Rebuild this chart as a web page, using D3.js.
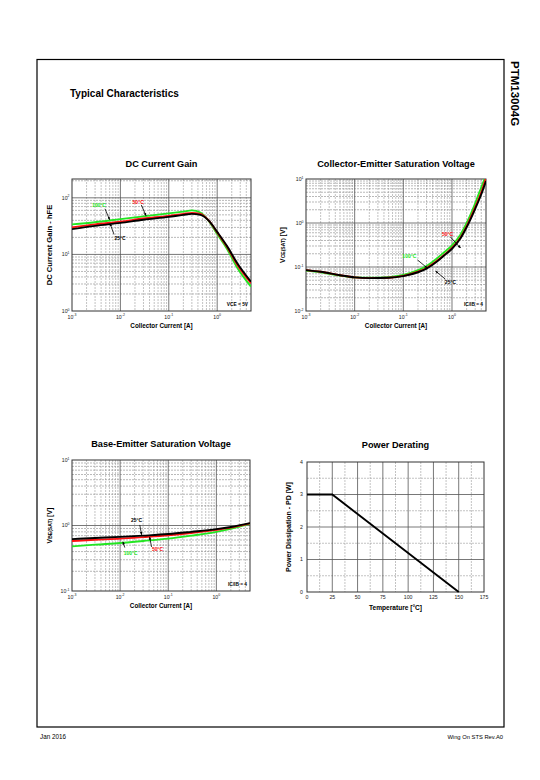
<!DOCTYPE html>
<html><head><meta charset="utf-8">
<script src="https://cdnjs.cloudflare.com/ajax/libs/d3/7.8.5/d3.min.js"></script>
<style>
html,body{margin:0;padding:0;background:#fff;}
svg text{font-family:"Liberation Sans",Arial,sans-serif;}
</style></head>
<body><svg id="c" width="540" height="780"></svg>
<script>
// ---------- DATA ----------
const pageTitle = "Typical Characteristics";
const partNo = "PTM13004G";
const footLeft = "Jan 2016";
const footRight = "Wing On STS Rev.A0";
const logXTicks = [0.001, 0.01, 0.1, 1];

// DC Current Gain
const dcX   = [0.001,0.003,0.01,0.03,0.1,0.2,0.3,0.45,0.7,1,1.6,2.6,5];
const dc25  = [28,32,36,41,46,50,52,50,38,25,14,7,3.3];
const dc50  = [30,34,38,43,48,52,54,52,38,24.5,13.5,6.6,3.1];
const dc100 = [34,37,42,47,53,57,60,55,37,23,12.5,5.8,2.7];
const dcYTicks = [1,10,100];

// Collector-Emitter Saturation Voltage
const ceX   = [0.001,0.002,0.005,0.01,0.02,0.05,0.1,0.2,0.3,0.5,0.7,1,1.5,2,3,4,5];
const ce25  = [0.085,0.078,0.065,0.058,0.056,0.057,0.062,0.076,0.092,0.135,0.185,0.26,0.45,0.8,2.1,4.5,9];
const ce50  = [0.085,0.078,0.065,0.058,0.056,0.057,0.063,0.078,0.095,0.14,0.19,0.27,0.47,0.85,2.3,5,10.5];
const ce100 = [0.083,0.076,0.064,0.058,0.057,0.059,0.066,0.085,0.105,0.16,0.22,0.31,0.55,1.0,2.8,6.5,12];
const ceYTicks = [0.01,0.1,1,10];

// Base-Emitter Saturation Voltage
const beX   = [0.001,0.003,0.01,0.03,0.1,0.3,1,2,5];
const be25  = [0.62,0.645,0.67,0.70,0.74,0.80,0.88,0.95,1.09];
const be50  = [0.58,0.605,0.63,0.665,0.71,0.77,0.86,0.93,1.08];
const be100 = [0.48,0.51,0.54,0.58,0.63,0.70,0.80,0.89,1.06];
const beYTicks = [0.1,1,10];

// Power Derating
const pdX = [0,25,150];
const pdY = [3,3,0];
const pdXTicks = [0,25,50,75,100,125,150,175];
const pdYTicks = [0,1,2,3,4];

const colors = {t25:"#000000", t50:"#ff1010", t100:"#22e622"};

// ---------- DRAW ----------
const svg = d3.select("#c");
svg.append("rect").attr("x",37).attr("y",59.5).attr("width",467).attr("height",667.5)
  .attr("fill","none").attr("stroke","#000").attr("stroke-width",1.2);
svg.append("text").attr("x",70).attr("y",97)
  .attr("font-weight","bold").attr("font-size",10).text(pageTitle);
svg.append("text").attr("transform","translate(511,61) rotate(90)")
  .attr("font-weight","bold").attr("font-size",11.5).text(partNo);
svg.append("text").attr("x",40).attr("y",739).attr("font-size",6.3)
  .attr("font-family","Lato, 'Open Sans', sans-serif").text(footLeft);
svg.append("text").attr("x",503).attr("y",739).attr("font-size",5.8).attr("text-anchor","end")
  .attr("font-family","Lato, 'Open Sans', sans-serif").text(footRight);

const defs = svg.append("defs");
defs.append("marker").attr("id","arr").attr("viewBox","0 0 10 10").attr("refX",9).attr("refY",5)
  .attr("markerWidth",4).attr("markerHeight",4).attr("orient","auto")
  .append("path").attr("d","M0,1 L10,5 L0,9 z").attr("fill","#000");

function supLabel(sel, base, exp) {
  sel.append("tspan").text(base);
  sel.append("tspan").attr("font-size",3.5).attr("dy",-2.3).text(exp);
}

let clipId = 0;
function logChart(cfg) {
  const g = svg.append("g");
  const x = d3.scaleLog().domain(cfg.xd).range([cfg.l, cfg.r]);
  const y = d3.scaleLog().domain(cfg.yd).range([cfg.b, cfg.t]);
  // minor grid
  const minorV = [], minorH = [];
  for (let e = -4; e <= 2; e++) for (let k = 2; k <= 9; k++) {
    const v = k * Math.pow(10, e);
    if (v > cfg.xd[0] && v < cfg.xd[1]) minorV.push(v);
    if (v > cfg.yd[0] && v < cfg.yd[1]) minorH.push(v);
  }
  g.selectAll(".mv").data(minorV).join("line").attr("x1",d=>x(d)).attr("x2",d=>x(d))
    .attr("y1",cfg.t).attr("y2",cfg.b).attr("stroke","#9a9a9a").attr("stroke-width",0.6).attr("stroke-dasharray","2,1");
  g.selectAll(".mh").data(minorH).join("line").attr("y1",d=>y(d)).attr("y2",d=>y(d))
    .attr("x1",cfg.l).attr("x2",cfg.r).attr("stroke","#8a8a8a").attr("stroke-width",0.6).attr("stroke-dasharray","2,1");
  // major grid
  g.selectAll(".Mv").data(logXTicks.filter(d=>d>cfg.xd[0])).join("line").attr("x1",d=>x(d)).attr("x2",d=>x(d))
    .attr("y1",cfg.t).attr("y2",cfg.b).attr("stroke","#555").attr("stroke-width",0.8);
  g.selectAll(".Mh").data(cfg.yt.filter(d=>d>cfg.yd[0] && d<cfg.yd[1])).join("line").attr("y1",d=>y(d)).attr("y2",d=>y(d))
    .attr("x1",cfg.l).attr("x2",cfg.r).attr("stroke","#555").attr("stroke-width",0.8);
  // frame
  g.append("rect").attr("x",cfg.l).attr("y",cfg.t).attr("width",cfg.r-cfg.l).attr("height",cfg.b-cfg.t)
    .attr("fill","none").attr("stroke","#333").attr("stroke-width",1);
  // ticks labels
  logXTicks.forEach(v => {
    const t = g.append("text").attr("x",x(v)).attr("y",cfg.b+7.5).attr("font-size",5.2).attr("text-anchor","middle").attr("fill","#222");
    supLabel(t, "10", String(Math.round(Math.log10(v))));
  });
  cfg.yt.forEach(v => {
    const t = g.append("text").attr("x",cfg.l-2.5).attr("y",y(v)+1.8).attr("font-size",5.2).attr("text-anchor","end").attr("fill","#222");
    supLabel(t, "10", String(Math.round(Math.log10(v))));
  });
  // titles
  g.append("text").attr("x",(cfg.l+cfg.r)/2).attr("y",cfg.titleY).attr("text-anchor","middle")
    .attr("font-weight","bold").attr("font-size",9.2).text(cfg.title);
  g.append("text").attr("x",(cfg.l+cfg.r)/2).attr("y",cfg.b+17).attr("text-anchor","middle")
    .attr("font-weight","bold").attr("font-size",6.3).text("Collector Current [A]");
  const yl = g.append("text").attr("transform",`translate(${cfg.ylx},${(cfg.t+cfg.b)/2}) rotate(-90)`)
    .attr("text-anchor","middle").attr("font-weight","bold").attr("font-size",cfg.ylfs);
  cfg.ylab(yl);
  // note
  g.append("text").attr("x",cfg.r-3).attr("y",cfg.b-5).attr("text-anchor","end").attr("font-size",4.8)
    .attr("font-weight","bold").text(cfg.note);
  // curves
  const id = "clip" + (clipId++);
  defs.append("clipPath").attr("id",id).append("rect").attr("x",cfg.l).attr("y",cfg.t)
    .attr("width",cfg.r-cfg.l).attr("height",cfg.b-cfg.t);
  const line = d3.line().x(d=>x(d[0])).y(d=>y(d[1])).curve(d3.curveMonotoneX);
  const cg = g.append("g").attr("clip-path",`url(#${id})`);
  cfg.series.forEach(s => {
    cg.append("path").datum(cfg.xs.map((v,i)=>[v,s.v[i]])).attr("d",line)
      .attr("fill","none").attr("stroke",s.c).attr("stroke-width",1.9);
  });
  // annotations
  cfg.ann.forEach(a => {
    g.append("text").attr("x",x(a.tx)).attr("y",y(a.ty)+1.7).attr("text-anchor","middle")
      .attr("font-size",5).attr("font-weight","bold").attr("fill",a.c).text(a.label);
    g.append("line").attr("x1",x(a.a[0])).attr("y1",y(a.a[1])).attr("x2",x(a.a[2])).attr("y2",y(a.a[3]))
      .attr("stroke","#000").attr("stroke-width",0.8).attr("marker-end","url(#arr)");
  });
}

function satLabel(sub){
  return t=>{t.append("tspan").text("V");t.append("tspan").attr("font-size",5).text(sub);t.append("tspan").text(" [V]");};
}

logChart({l:72,r:251,t:179,b:311,xd:[0.001,5],yd:[1,215],yt:dcYTicks,xs:dcX,
  title:"DC Current Gain",titleY:167,ylx:52,ylfs:7.6,note:"VCE = 5V",
  ylab:t=>t.text("DC Current Gain - hFE"),
  series:[{v:dc100,c:colors.t100},{v:dc50,c:colors.t50},{v:dc25,c:colors.t25}],
  ann:[{label:"100°C",c:colors.t100,tx:0.0036,ty:75,a:[0.0048,64,0.006,41]},
       {label:"50°C",c:colors.t50,tx:0.0233,ty:85,a:[0.027,75,0.034,48]},
       {label:"25°C",c:colors.t25,tx:0.0098,ty:19,a:[0.0074,22.5,0.0061,35]}]});

logChart({l:306,r:486,t:179,b:311,xd:[0.001,5],yd:[0.01,10],yt:ceYTicks,xs:ceX,
  title:"Collector-Emitter Saturation Voltage",titleY:167,ylx:285,ylfs:7,note:"IC/IB = 4",
  ylab:satLabel("CE(SAT)"),
  series:[{v:ce100,c:colors.t100},{v:ce50,c:colors.t50},{v:ce25,c:colors.t25}],
  ann:[{label:"50°C",c:colors.t50,tx:0.81,ty:0.56,a:[0.93,0.48,1.5,0.27]},
       {label:"100°C",c:colors.t100,tx:0.133,ty:0.178,a:[0.195,0.145,0.31,0.095]},
       {label:"25°C",c:colors.t25,tx:0.93,ty:0.046,a:[0.73,0.053,0.46,0.081]}]});

logChart({l:72,r:250,t:460,b:591,xd:[0.001,5],yd:[0.1,10],yt:beYTicks,xs:beX,
  title:"Base-Emitter Saturation Voltage",titleY:447,ylx:52,ylfs:7,note:"IC/IB = 4",
  ylab:satLabel("BE(SAT)"),
  series:[{v:be100,c:colors.t100},{v:be50,c:colors.t50},{v:be25,c:colors.t25}],
  ann:[{label:"25°C",c:colors.t25,tx:0.022,ty:1.18,a:[0.0256,1.02,0.028,0.72]},
       {label:"50°C",c:colors.t50,tx:0.06,ty:0.43,a:[0.045,0.47,0.041,0.67]},
       {label:"100°C",c:colors.t100,tx:0.0166,ty:0.38,a:[0.0125,0.46,0.0114,0.565]}]});

// Power derating
(function(){
  const l=307,r=484,t=462,b=592;
  const g = svg.append("g");
  const x = d3.scaleLinear().domain([0,175]).range([l,r]);
  const y = d3.scaleLinear().domain([0,4]).range([b,t]);
  const minorX = d3.range(12.5,175,25), minorY = d3.range(0.5,4,1);
  g.selectAll(".mv").data(minorX).join("line").attr("x1",d=>x(d)).attr("x2",d=>x(d)).attr("y1",t).attr("y2",b)
    .attr("stroke","#9a9a9a").attr("stroke-width",0.6).attr("stroke-dasharray","2,1");
  g.selectAll(".mh").data(minorY).join("line").attr("y1",d=>y(d)).attr("y2",d=>y(d)).attr("x1",l).attr("x2",r)
    .attr("stroke","#9a9a9a").attr("stroke-width",0.6).attr("stroke-dasharray","2,1");
  g.selectAll(".Mv").data(pdXTicks.slice(1,-1)).join("line").attr("x1",d=>x(d)).attr("x2",d=>x(d)).attr("y1",t).attr("y2",b)
    .attr("stroke","#555").attr("stroke-width",0.8);
  g.selectAll(".Mh").data(pdYTicks.slice(1,-1)).join("line").attr("y1",d=>y(d)).attr("y2",d=>y(d)).attr("x1",l).attr("x2",r)
    .attr("stroke","#555").attr("stroke-width",0.8);
  g.append("rect").attr("x",l).attr("y",t).attr("width",r-l).attr("height",b-t)
    .attr("fill","none").attr("stroke","#333").attr("stroke-width",1);
  g.selectAll(".xt").data(pdXTicks).join("text").attr("x",d=>x(d)).attr("y",b+7).attr("text-anchor","middle")
    .attr("font-size",5.2).attr("fill","#222").text(d=>d);
  g.selectAll(".yt").data(pdYTicks).join("text").attr("x",l-4).attr("y",d=>y(d)+1.8).attr("text-anchor","end")
    .attr("font-size",5.2).attr("fill","#222").text(d=>d);
  g.append("text").attr("x",(l+r)/2).attr("y",448).attr("text-anchor","middle").attr("font-weight","bold")
    .attr("font-size",9.2).text("Power Derating");
  g.append("text").attr("x",(l+r)/2).attr("y",b+18).attr("text-anchor","middle").attr("font-weight","bold")
    .attr("font-size",6.6).text("Temperature [°C]");
  g.append("text").attr("transform",`translate(291,${(t+b)/2}) rotate(-90)`).attr("text-anchor","middle")
    .attr("font-weight","bold").attr("font-size",7).text("Power Dissipation - PD [W]");
  const line = d3.line().x((d,i)=>x(pdX[i])).y(d=>y(d));
  g.append("path").datum(pdY).attr("d",line).attr("fill","none").attr("stroke","#000").attr("stroke-width",1.9);
})();
</script></body></html>
